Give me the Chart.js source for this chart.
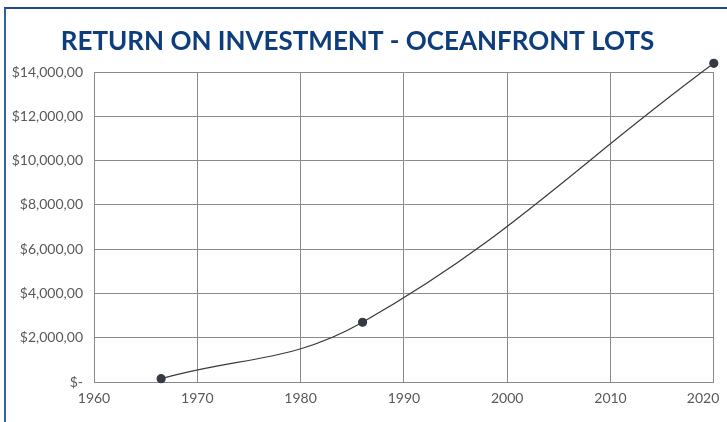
<!DOCTYPE html>
<html>
<head>
<meta charset="utf-8">
<script src="https://cdn.jsdelivr.net/npm/chart.js@4"></script>
<style>
  html, body { margin: 0; padding: 0; background: #fff; }
  #wrap { position: relative; width: 727px; height: 422px; overflow: hidden; }
  #frame { position: absolute; left: 4px; top: 7px; width: 800px; height: 500px;
           border-left: 2px solid #3562a0; border-top: 2px solid #1d4a87; }
  canvas { position: absolute; left: 0; top: 0; }
</style>
</head>
<body>
<div id="wrap">
  <div id="frame"></div>
  <canvas id="roi" width="727" height="422"></canvas>
</div>
<script>
const years = [1966.5, 1986, 2020];
const values = [150, 2700, 14400];
const chartTitle = 'RETURN ON INVESTMENT - OCEANFRONT LOTS';

const grey = '#8a8a8a';

const fmtMoney = v => v === 0 ? '$-' : '$' + v.toLocaleString('en-US') + ',00';

const ctx = document.getElementById('roi').getContext('2d');

const roiChart = new Chart(ctx, {
  type: 'line',
  data: {
    datasets: [{
      data: years.map((y, i) => ({ x: y, y: values[i] })),
      borderColor: '#3a3a3a',
      borderWidth: 1.2,
      backgroundColor: '#353a45',
      pointBackgroundColor: '#353a45',
      pointBorderColor: '#353a45',
      pointRadius: 4,
      // bigger hover radius so the last point (above the axis max) still gets drawn
      pointHoverRadius: 12,
      tension: 0.4,
      clip: false
    }]
  },
  options: {
    responsive: false,
    animation: false,
    events: [],
    layout: { padding: { left: 0, right: 12, top: 0, bottom: 0 } },
    plugins: {
      legend: { display: false },
      tooltip: { enabled: false },
      title: {
        display: true,
        text: chartTitle,
        color: '#0d3d7c',
        font: { family: 'Lato', size: 26, weight: 'bold' },
        padding: { top: 26, bottom: 15 }
      }
    },
    scales: {
      x: {
        type: 'linear',
        min: 1960,
        max: 2020,
        ticks: {
          stepSize: 10,
          color: '#595959',
          font: { family: 'Lato', size: 14 },
          padding: 8,
          maxRotation: 0,
          callback: v => v === 2020 ? v + '      ' : String(v)
        },
        grid: { color: grey, drawTicks: false },
        border: { color: grey },
        afterFit: s => { s.height = 40; s.paddingLeft = 0; s.paddingRight = 0; }
      },
      y: {
        min: 0,
        max: 14000,
        ticks: {
          stepSize: 2000,
          color: '#595959',
          font: { family: 'Lato', size: 14 },
          padding: 11,
          callback: v => fmtMoney(v)
        },
        grid: { color: grey, drawTicks: false },
        border: { color: grey },
        afterFit: s => { s.width = 94; s.paddingTop = 0; s.paddingBottom = 0; }
      }
    }
  }
});
</script>
</body>
</html>
